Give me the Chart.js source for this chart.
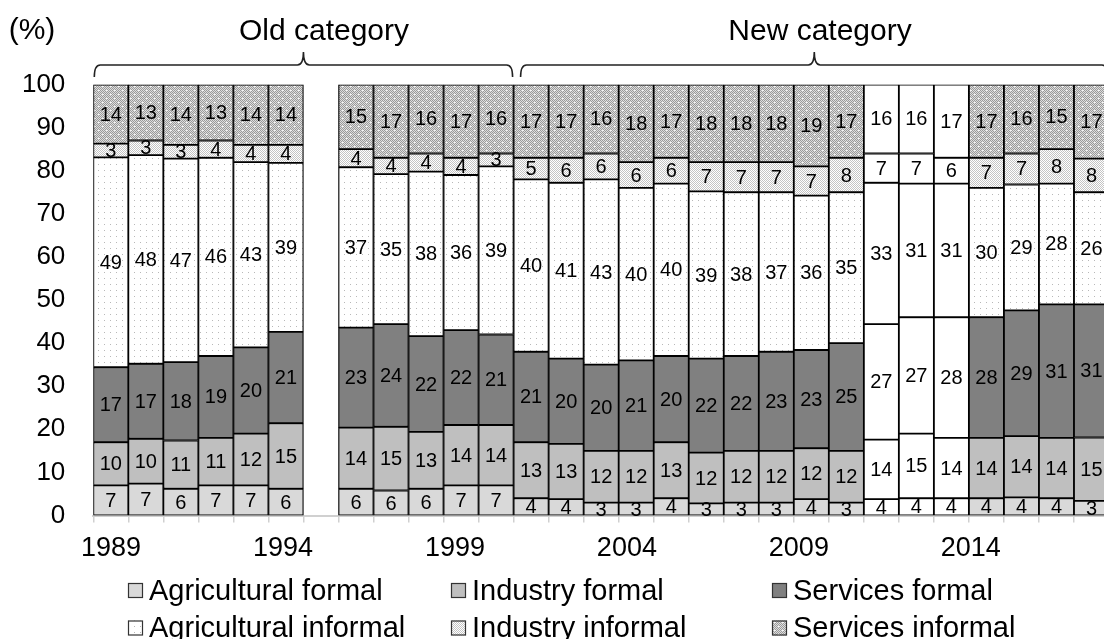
<!DOCTYPE html>
<html>
<head>
<meta charset="utf-8">
<script src="https://cdn.jsdelivr.net/npm/chart.js@4.4.1/dist/chart.umd.min.js"></script>
<style>
html,body{margin:0;padding:0;overflow:hidden;background:#fff;width:1104px;height:639px}
#wrap{position:absolute;left:0;top:0;width:1112px;height:639px}
</style>
</head>
<body>
<div id="wrap"><canvas id="c" width="1112" height="639"></canvas></div>
<script>
// ---- data ----
const years = [1989,1990,1991,1992,1993,1994,1995,1996,1997,1998,1999,2000,2001,2002,2003,2004,2005,2006,2007,2008,2009,2010,2011,2012,2013,2014,2015,2016,2017];
const agriFormal   = [7.0,7.4,6.2,7,7,6.2,null,6.2,5.8,6.2,7,7,4,3.8,3,3,4,2.8,3,3,3.8,3,3.8,4,4,4,4.2,4,3.4];
const indFormal    = [10,10.4,11.2,11,12,15.2,null,14.2,14.8,13.2,14,14,13,12.8,12,12,13,11.8,12,12,11.8,12,13.8,15,14,14,14.2,14,14.7];
const servFormal   = [17.4,17.4,18.2,19,20,21.2,null,23.2,23.8,22.2,22,21,21,19.8,20,21,20,21.8,22,23,22.8,25,26.8,27,28,28,29.2,31,30.9];
const agriInformal = [48.7,48.4,47.2,46,43,39.2,null,37.2,34.8,38.2,36,39,40,40.8,43,40,40,38.8,38,37,35.8,35,32.8,31,31,30,29.2,28,26];
const indInformal  = [3.2,3.4,3.2,4,4,4.2,null,4.2,3.8,4.2,4,3,5,5.8,6,6,6,6.8,7,7,6.8,8,6.8,7,6,7,7.2,8,7.8];
const servInformal = [13.7,13,14,13,14,14,null,15,17,16,17,16,17,17,16,18,17,18,18,18,19,17,16,16,17,17,16,15,17.2];
const seriesNames  = ['Agricultural formal','Industry formal','Services formal','Agricultural informal','Industry informal','Services informal'];
const tickYears    = [1989,1994,1999,2004,2009,2014];
const plainYears   = [2011,2012,2013];
const groupNames   = ['Old category','New category'];
const groupFrom    = [1989,2001];
const groupTo      = [2000,2017];

// ---- styles ----
const FONT = "'Liberation Sans', Arial, sans-serif";
const canvas = document.getElementById('c');
const mainCtx = canvas.getContext('2d');
function makePattern(size, draw){
  const c = document.createElement('canvas'); c.width = size; c.height = size;
  const g = c.getContext('2d'); draw(g, size);
  return mainCtx.createPattern(c, 'repeat');
}
const patDots = makePattern(6, (g,s)=>{ g.fillStyle='#fff'; g.fillRect(0,0,s,s); g.fillStyle='#b8b8b8'; g.fillRect(2,2,1,1); });
const patLight = makePattern(2, (g,s)=>{ g.fillStyle='#fff'; g.fillRect(0,0,s,s); g.fillStyle='#c4c4c4'; g.fillRect(0,0,1,1); g.fillRect(1,1,1,1); });
const patDark = makePattern(8, (g,s)=>{
  for(let y=0;y<s;y++) for(let x=0;x<s;x++){ g.fillStyle = ((x+y)%2===0)?'#9a9a9a':'#dedede'; g.fillRect(x,y,1,1); }
  g.fillStyle='#f4f4f4'; g.fillRect(2,2,2,1); g.fillRect(6,6,2,1);
});
const fills = ['#d9d9d9','#bfbfbf','#808080',patDots,patLight,patDark];
const seriesData = [agriFormal,indFormal,servFormal,agriInformal,indInformal,servInformal];

const datasets = seriesData.map((d,i)=>({
  label: seriesNames[i],
  data: d,
  backgroundColor: (c)=> (c.dataIndex!==undefined && plainYears.includes(years[c.dataIndex])) ? '#ffffff' : fills[i],
  borderColor: '#000',
  borderWidth: 1.25,
  borderSkipped: false,
  barPercentage: 1,
  categoryPercentage: 1
}));

const valueLabels = {
  id:'valueLabels',
  afterDatasetsDraw(chart){
    const ctx = chart.ctx; ctx.save();
    ctx.font = '20px ' + FONT; ctx.fillStyle = '#000';
    ctx.textAlign = 'center'; ctx.textBaseline = 'middle';
    chart.data.datasets.forEach((ds,di)=>{
      const meta = chart.getDatasetMeta(di);
      meta.data.forEach((el,i)=>{
        const v = ds.data[i]; if(v==null) return;
        const p = el.getProps(['x','y','base'], true);
        ctx.fillText(String(Math.round(v)), p.x, (p.y+p.base)/2 + 1);
      });
    });
    ctx.restore();
  }
};

const legendGrid = {
  id:'legendGrid',
  afterDraw(chart){
    const ctx = chart.ctx; ctx.save();
    const cols = [128,451,772], rows = [590.5,628], box = 15;
    ctx.font = '29px ' + FONT; ctx.textBaseline = 'middle'; ctx.textAlign = 'left';
    chart.data.datasets.forEach((ds,i)=>{
      const x = cols[i%3], yc = rows[Math.floor(i/3)];
      ctx.fillStyle = fills[i]; ctx.fillRect(x, yc-box/2, box, box);
      ctx.strokeStyle = '#333'; ctx.lineWidth = 1.2; ctx.strokeRect(x+0.5, yc-box/2+0.5, box-1, box-1);
      ctx.fillStyle = '#000'; ctx.fillText(ds.label, x+box+6, yc+1);
    });
    ctx.restore();
  }
};

const groupBrackets = {
  id:'groupBrackets',
  afterDraw(chart){
    const ctx = chart.ctx, xs = chart.scales.x; ctx.save();
    const half = (xs.getPixelForValue(1)-xs.getPixelForValue(0))/2;
    ctx.font = '30px ' + FONT; ctx.fillStyle = '#000'; ctx.textAlign='center'; ctx.textBaseline='middle';
    ctx.fillText('(%)', 32, 31);
    const yl = 65, yb = 77, yt = 52, r = 6;
    const textX = [324, 820];
    groupNames.forEach((name,g)=>{
      const x0 = xs.getPixelForValue(years.indexOf(groupFrom[g])) - half + (g===0?1:7);
      const x1 = xs.getPixelForValue(years.indexOf(groupTo[g])) + half - 1;
      const mid = (x0+x1)/2;
      ctx.beginPath();
      ctx.moveTo(x0, yb);
      ctx.quadraticCurveTo(x0, yl, x0+r, yl);
      ctx.lineTo(mid-r, yl);
      ctx.quadraticCurveTo(mid, yl, mid, yt);
      ctx.quadraticCurveTo(mid, yl, mid+r, yl);
      ctx.lineTo(x1-r, yl);
      ctx.quadraticCurveTo(x1, yl, x1, yb);
      ctx.strokeStyle = '#222'; ctx.lineWidth = 1.6; ctx.stroke();
      ctx.fillStyle = '#000';
      ctx.fillText(name, textX[g], 32);
    });
    ctx.restore();
  }
};

new Chart(mainCtx, {
  type:'bar',
  data:{ labels: years.map(String), datasets },
  options:{
    responsive:false, animation:false,
    layout:{ padding:{ top:84.5, left:0, right:3, bottom:0 } },
    plugins:{ legend:{display:false}, tooltip:{enabled:false} },
    scales:{
      x:{
        stacked:true, offset:true, weight:0,
        grid:{ offset:true, drawOnChartArea:false, drawTicks:true, tickLength:7, color:'#d0d0d0', lineWidth:1.5 },
        border:{ display:true, color:'#d0d0d0', width:2 },
        ticks:{ display:false, autoSkip:false },
        afterFit:(s)=>{ s.height = 8; }
      },
      xLabels:{
        type:'linear', position:'bottom', weight:1, offset:false, bounds:'data',
        min:1988.4855, max:2018.0175,
        grid:{ display:false, drawTicks:false, offset:false }, border:{ display:false },
        afterBuildTicks:(s)=>{ s.ticks = tickYears.map(v=>({value:v})); },
        ticks:{ autoSkip:false, maxRotation:0, minRotation:0, padding:9, color:'#000', font:{family:FONT, size:27},
          callback:(v)=> String(v) },
        afterFit:(s)=>{ s.height = 639 - 515.5 - 8; }
      },
      y:{
        stacked:true, min:0, max:100,
        ticks:{ stepSize:10, padding:28, color:'#000', font:{family:FONT, size:26} },
        grid:{ display:false, drawTicks:false },
        border:{ display:false },
        afterFit:(s)=>{ s.width = 93.3; }
      }
    }
  },
  plugins:[valueLabels, legendGrid, groupBrackets]
});
</script>
</body>
</html>
